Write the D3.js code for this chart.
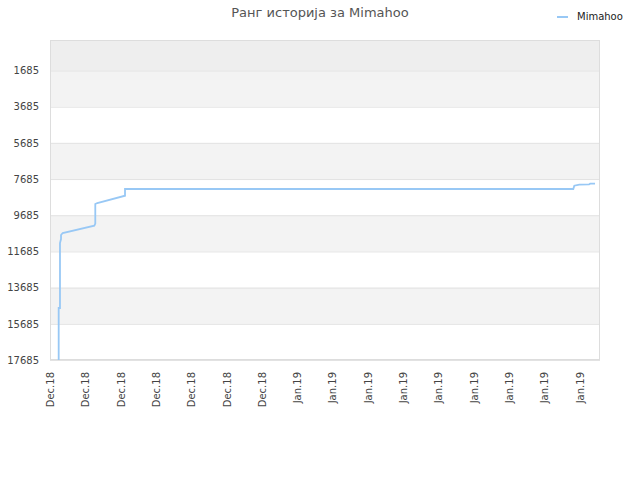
<!DOCTYPE html>
<html>
<head>
<meta charset="utf-8">
<script src="https://cdn.jsdelivr.net/npm/d3@7"></script>
<style>
  body { margin: 0; background: #fff; }
  svg { font-family: "DejaVu Sans", sans-serif; }
</style>
</head>
<body>
<div id="chart"></div>
<script>
// x positions are in tick units (0 = first label, 15 = last label)
const tickLabels = ['Dec.18','Dec.18','Dec.18','Dec.18','Dec.18','Dec.18','Dec.18',
                    'Jan.19','Jan.19','Jan.19','Jan.19','Jan.19','Jan.19','Jan.19','Jan.19','Jan.19'];
const rankTicks  = [1685, 3685, 5685, 7685, 9685, 11685, 13685, 15685, 17685];

const seriesName = 'Mimahoo';
const seriesX    = [0.246, 0.246, 0.283, 0.283, 0.312, 0.312, 0.360, 1.255, 1.283, 1.283, 1.340,
                    2.125, 2.125, 14.824, 14.853, 14.994, 15.27, 15.30, 15.44];
const seriesRank = [17685, 14812, 14812, 11220, 11000, 10777, 10667, 10264, 10150, 9064, 9009,
                    8605, 8235, 8235, 8053, 7998, 7980, 7942, 7942];

(function () {
  const W = 640, H = 480;
  const m = { left: 50, right: 600, top: 40, bottom: 360 };

  const svg = d3.select('#chart').append('svg')
    .attr('width', W).attr('height', H);

  const x = d3.scaleLinear().domain([0, 15]).range([m.left, 579.5]);
  const y = d3.scaleLinear().domain([0, 17685]).range([m.top, m.bottom]);

  // background bands
  const edges = [0, ...rankTicks];
  svg.append('g').selectAll('rect')
    .data(d3.pairs(edges))
    .enter().append('rect')
      .attr('x', m.left).attr('width', m.right - m.left)
      .attr('y', d => y(d[0]))
      .attr('height', d => y(d[1]) - y(d[0]))
      .attr('fill', (d, i) => i === 0 ? '#eeeeee' : (i % 2 ? '#f3f3f3' : '#ffffff'));

  // grid lines
  svg.append('g').selectAll('line')
    .data(rankTicks)
    .enter().append('line')
      .attr('x1', m.left).attr('x2', m.right)
      .attr('y1', d => y(d) + 0.5).attr('y2', d => y(d) + 0.5)
      .attr('stroke', '#e2e2e2');

  // frame
  svg.append('rect')
    .attr('x', m.left + 0.5).attr('y', m.top + 0.5)
    .attr('width', m.right - m.left - 1).attr('height', m.bottom - m.top - 1)
    .attr('fill', 'none').attr('stroke', '#dddddd');

  // y axis labels
  const yAxis = svg.append('g')
    .attr('transform', `translate(${m.left - 11},0)`)
    .call(d3.axisLeft(y).tickValues(rankTicks).tickFormat(d3.format('d'))
      .tickSize(0).tickPadding(0));
  yAxis.select('.domain').remove();
  yAxis.selectAll('text')
    .style('font-family', '"DejaVu Sans", sans-serif')
    .style('font-size', '10px')
    .attr('fill', '#444');

  // x axis labels (rotated)
  const xAxis = svg.append('g')
    .attr('transform', `translate(0,${m.bottom})`)
    .call(d3.axisBottom(x).tickValues(d3.range(tickLabels.length))
      .tickFormat(i => tickLabels[i]).tickSize(0));
  xAxis.select('.domain').remove();
  xAxis.selectAll('text')
    .style('font-family', '"DejaVu Sans", sans-serif')
    .style('font-size', '10px')
    .attr('fill', '#444')
    .attr('text-anchor', 'end')
    .attr('transform', 'rotate(-90)')
    .attr('x', -12).attr('y', 0).attr('dy', '0.35em');

  // series line
  const pts = seriesX.map((v, i) => [v, seriesRank[i]]);
  svg.append('path')
    .datum(pts)
    .attr('fill', 'none')
    .attr('stroke', '#98c8f5')
    .attr('stroke-width', 1.8)
    .attr('d', d3.line().x(d => x(d[0])).y(d => y(d[1])));

  // title
  svg.append('text')
    .attr('x', 320).attr('y', 17)
    .attr('text-anchor', 'middle')
    .style('font-size', '13px')
    .attr('fill', '#555')
    .text('Ранг историја за ' + seriesName);

  // legend
  svg.append('line')
    .attr('x1', 557).attr('x2', 568)
    .attr('y1', 17).attr('y2', 17)
    .attr('stroke', '#98c8f5').attr('stroke-width', 2);
  svg.append('text')
    .attr('x', 577).attr('y', 16).attr('dy', '0.35em')
    .style('font-size', '10px')
    .attr('fill', '#222')
    .text(seriesName);
})();
</script>
</body>
</html>
